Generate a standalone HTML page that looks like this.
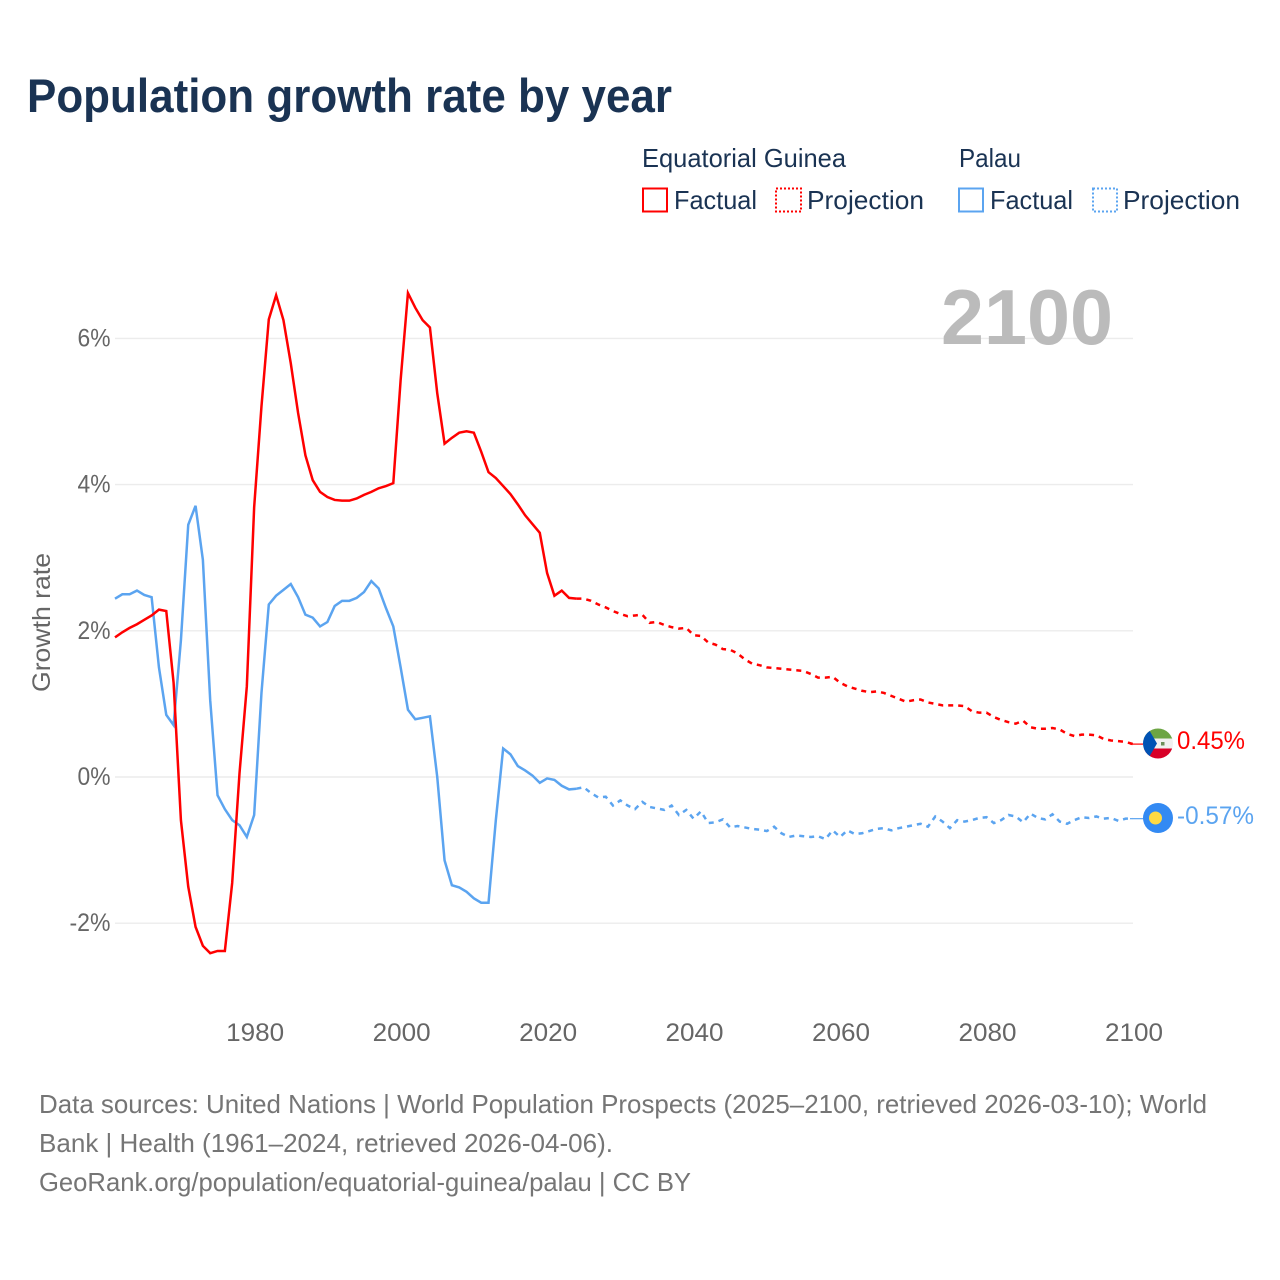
<!DOCTYPE html>
<html lang="en">
<head>
<meta charset="utf-8">
<title>Population growth rate by year</title>
<style>
html,body{margin:0;padding:0;background:#fff;}
svg{display:block;font-family:"Liberation Sans",sans-serif;}
</style>
</head>
<body>
<svg id="chart" xmlns="http://www.w3.org/2000/svg" width="1280" height="1280" viewBox="0 0 1280 1280">
  <rect x="0" y="0" width="1280" height="1280" fill="#ffffff"/>
  <text x="27" y="112" font-size="47" font-weight="700" fill="#1a3353" textLength="645" lengthAdjust="spacingAndGlyphs">Population growth rate by year</text>

  <g font-size="26" fill="#1a3353">
    <text x="642" y="167" textLength="204" lengthAdjust="spacingAndGlyphs">Equatorial Guinea</text>
    <text x="959" y="167" textLength="62" lengthAdjust="spacingAndGlyphs">Palau</text>
    <rect x="643" y="188.5" width="24" height="23" fill="none" stroke="#ff0000" stroke-width="2"/>
    <text x="674" y="209" textLength="83" lengthAdjust="spacingAndGlyphs">Factual</text>
    <rect x="776" y="188.5" width="25" height="23" fill="none" stroke="#ff0000" stroke-width="2" stroke-dasharray="2 2"/>
    <text x="807" y="209" textLength="117" lengthAdjust="spacingAndGlyphs">Projection</text>
    <rect x="959" y="188.5" width="24" height="23" fill="none" stroke="#5ba4f0" stroke-width="2"/>
    <text x="990" y="209" textLength="83" lengthAdjust="spacingAndGlyphs">Factual</text>
    <rect x="1093" y="188.5" width="24" height="23" fill="none" stroke="#5ba4f0" stroke-width="2" stroke-dasharray="2 2"/>
    <text x="1123" y="209" textLength="117" lengthAdjust="spacingAndGlyphs">Projection</text>
  </g>

  <g id="grid"></g>
  <g id="y-axis"></g>
  <g id="x-axis"></g>

  <text x="941" y="344" font-size="78" font-weight="700" fill="#bbbbbb" textLength="172" lengthAdjust="spacingAndGlyphs">2100</text>
  <text transform="translate(50,692) rotate(-90)" font-size="25" fill="#666666" textLength="139" lengthAdjust="spacingAndGlyphs">Growth rate</text>

  <g id="series"></g>

  <g>
    <clipPath id="clip-gq"><circle cx="1158" cy="743.5" r="15"/></clipPath>
    <g clip-path="url(#clip-gq)">
      <rect x="1143" y="728" width="30" height="11" fill="#6da544"/>
      <rect x="1143" y="738.5" width="30" height="10.5" fill="#f0f0f0"/>
      <rect x="1143" y="748.5" width="30" height="11" fill="#d80027"/>
      <polygon points="1143,728 1148,728 1157,743.5 1148,759 1143,759" fill="#0052b4"/>
      <rect x="1161" y="742" width="3.5" height="3.5" fill="#6c8f5a"/>
    </g>
  </g>
  <g>
    <circle cx="1158" cy="818" r="15" fill="#338af3"/>
    <circle cx="1155.5" cy="818" r="6.5" fill="#ffda44"/>
  </g>

  <text id="label-guinea" x="1177" y="749" font-size="25" fill="#ff0000" textLength="68" lengthAdjust="spacingAndGlyphs">0.45%</text>
  <text id="label-palau" x="1177" y="824" font-size="25" fill="#5ba4f0" textLength="77" lengthAdjust="spacingAndGlyphs">-0.57%</text>

  <g font-size="26" fill="#757575">
    <text x="39" y="1113" textLength="1168" lengthAdjust="spacingAndGlyphs">Data sources: United Nations | World Population Prospects (2025–2100, retrieved 2026-03-10); World</text>
    <text x="39" y="1152" textLength="574" lengthAdjust="spacingAndGlyphs">Bank | Health (1961–2024, retrieved 2026-04-06).</text>
    <text x="39" y="1191" textLength="652" lengthAdjust="spacingAndGlyphs">GeoRank.org/population/equatorial-guinea/palau | CC BY</text>
  </g>
</svg>

<script>
const yTicks = [6, 4, 2, 0, -2];
const xTicks = [1980, 2000, 2020, 2040, 2060, 2080, 2100];
const firstFactualYear = 1961;
const firstProjectionYear = 2024;

const guineaFactual = [1.91,1.98,2.04,2.09,2.15,2.21,2.29,2.27,1.29,-0.59,-1.50,-2.05,-2.31,-2.41,-2.38,-2.38,-1.45,0.05,1.24,3.69,5.07,6.26,6.59,6.25,5.66,4.98,4.40,4.06,3.90,3.83,3.79,3.78,3.78,3.81,3.86,3.90,3.95,3.98,4.02,5.43,6.62,6.42,6.25,6.15,5.25,4.56,4.64,4.71,4.73,4.71,4.45,4.17,4.09,3.98,3.87,3.73,3.58,3.46,3.34,2.79,2.48,2.55,2.45,2.44];
const guineaProjection = [2.44,2.44,2.41,2.36,2.32,2.27,2.23,2.20,2.21,2.22,2.11,2.12,2.08,2.05,2.03,2.04,1.94,1.93,1.84,1.81,1.75,1.74,1.69,1.61,1.55,1.53,1.50,1.49,1.48,1.47,1.46,1.45,1.41,1.36,1.36,1.37,1.29,1.24,1.21,1.18,1.16,1.17,1.15,1.11,1.07,1.03,1.05,1.06,1.02,1.00,0.98,0.98,0.98,0.97,0.90,0.88,0.88,0.82,0.78,0.75,0.73,0.77,0.68,0.66,0.66,0.67,0.65,0.59,0.56,0.58,0.58,0.57,0.52,0.50,0.49,0.48,0.45];
const palauFactual = [2.44,2.50,2.50,2.55,2.49,2.46,1.50,0.85,0.71,1.87,3.45,3.71,2.97,1.05,-0.25,-0.44,-0.59,-0.66,-0.82,-0.52,1.15,2.36,2.48,2.56,2.64,2.46,2.22,2.18,2.06,2.12,2.34,2.41,2.41,2.45,2.53,2.68,2.58,2.31,2.06,1.50,0.92,0.79,0.81,0.83,0.00,-1.14,-1.48,-1.51,-1.57,-1.66,-1.72,-1.72,-0.59,0.39,0.31,0.15,0.09,0.02,-0.08,-0.02,-0.04,-0.12,-0.17,-0.16];
const palauProjection = [-0.16,-0.14,-0.22,-0.28,-0.27,-0.39,-0.32,-0.39,-0.44,-0.34,-0.41,-0.43,-0.45,-0.39,-0.52,-0.45,-0.57,-0.47,-0.63,-0.62,-0.58,-0.69,-0.67,-0.69,-0.71,-0.72,-0.74,-0.68,-0.77,-0.82,-0.80,-0.81,-0.82,-0.81,-0.85,-0.73,-0.82,-0.73,-0.78,-0.77,-0.74,-0.71,-0.70,-0.73,-0.70,-0.68,-0.66,-0.64,-0.68,-0.54,-0.61,-0.70,-0.59,-0.61,-0.59,-0.56,-0.55,-0.63,-0.59,-0.52,-0.54,-0.62,-0.50,-0.56,-0.58,-0.51,-0.61,-0.64,-0.59,-0.55,-0.56,-0.54,-0.57,-0.56,-0.60,-0.57,-0.57];

const NS = "http://www.w3.org/2000/svg";
const xScale = function (year) { return 115 + (year - 1961) * (1018 / 139); };
const yScale = function (value) { return 777 - 73.1 * value; };
const pct = function (value) { return value + "%"; };

function make(parent, tag, attrs, text) {
  const el = document.createElementNS(NS, tag);
  for (const key in attrs) { el.setAttribute(key, attrs[key]); }
  if (text !== undefined) { el.textContent = text; }
  parent.appendChild(el);
  return el;
}

function pathFor(values, startYear) {
  return values.map(function (v, i) {
    return (i ? "L" : "M") + xScale(startYear + i).toFixed(2) + " " + yScale(v).toFixed(2);
  }).join(" ");
}

const gridGroup = document.getElementById("grid");
const yGroup = document.getElementById("y-axis");
const xGroup = document.getElementById("x-axis");
const seriesGroup = document.getElementById("series");

yTicks.forEach(function (tick) {
  const line = make(gridGroup, "line", { x1: xScale(1961), x2: xScale(2100), y1: yScale(tick), y2: yScale(tick), stroke: "#ececec", "stroke-width": 1.4 });
  
  
  const text = pct(tick);
  const label = make(yGroup, "text", { x: 110.5, y: yScale(tick) + 8, "text-anchor": "end", "font-size": 25, fill: "#666666", textLength: 8 * text.length + 17, lengthAdjust: "spacingAndGlyphs" }, text);
  
  
});

xTicks.forEach(function (tick) {
  const label = make(xGroup, "text", { x: xScale(tick) + 1, y: 1041, "text-anchor": "middle", "font-size": 25, fill: "#666666", textLength: 58, lengthAdjust: "spacingAndGlyphs" }, String(tick));
  
  
});

const guineaDash = make(seriesGroup, "path", { d: pathFor(guineaProjection, firstProjectionYear), fill: "none", stroke: "#ff0000", "stroke-width": 2.5, "stroke-dasharray": "5 5" });



const palauDash = make(seriesGroup, "path", { d: pathFor(palauProjection, firstProjectionYear), fill: "none", stroke: "#5ba4f0", "stroke-width": 2.5, "stroke-dasharray": "5 5" });



const palauLine = make(seriesGroup, "path", { d: pathFor(palauFactual, firstFactualYear), fill: "none", stroke: "#5ba4f0", "stroke-width": 2.5 });



const guineaLine = make(seriesGroup, "path", { d: pathFor(guineaFactual, firstFactualYear), fill: "none", stroke: "#ff0000", "stroke-width": 2.5 });



const guineaEnd = guineaProjection[guineaProjection.length - 1];
const palauEnd = palauProjection[palauProjection.length - 1];

const guineaLink = make(seriesGroup, "line", { x1: xScale(2100) - 3, x2: 1144, y1: yScale(guineaEnd), y2: yScale(guineaEnd), stroke: "#ff0000", "stroke-width": 1.2 });



const palauLink = make(seriesGroup, "line", { x1: xScale(2100) - 3, x2: 1144, y1: yScale(palauEnd), y2: yScale(palauEnd), stroke: "#5ba4f0", "stroke-width": 1.2 });



document.getElementById("label-guinea").textContent = guineaEnd.toFixed(2) + "%";
document.getElementById("label-palau").textContent = palauEnd.toFixed(2) + "%";
</script>
</body>
</html>
